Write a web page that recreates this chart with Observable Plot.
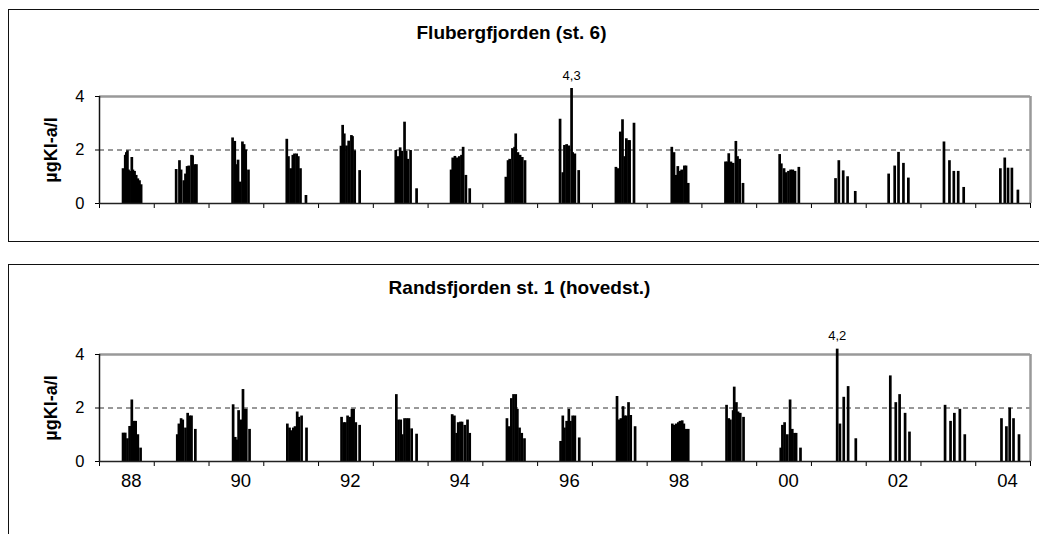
<!DOCTYPE html>
<html>
<head>
<meta charset="utf-8">
<script src="https://cdn.jsdelivr.net/npm/d3@7"></script>
<script src="https://cdn.jsdelivr.net/npm/@observablehq/plot@0.6"></script>
<style>
  html, body { margin: 0; padding: 0; background: #fff; }
  #page { position: relative; width: 1039px; height: 534px; overflow: hidden; font-family: "Liberation Sans", Arial, sans-serif; }
  .box { position: absolute; border: 1.5px solid #111; border-right: none; }
  .title { position: absolute; width: 1039px; text-align: center; font-weight: bold; font-size: 19px; line-height: 22px; }
  .panel { position: absolute; left: 0; }
  .panel svg { overflow: visible; }
</style>
</head>
<body>
<div id="page">
  <div class="box" style="left:8px;top:9px;width:1100px;height:231px;"></div>
  <div class="box" style="left:8px;top:264px;width:1100px;height:400px;border-bottom:none;"></div>
  <div class="title" id="t1" style="top:22px;left:-8px;"></div>
  <div class="title" id="t2" style="top:277px;left:0px;"></div>
  <div class="panel" id="p1" style="top:0px;"></div>
  <div class="panel" id="p2" style="top:250px;"></div>
</div>
<script>
// ---------- data ----------
const panelTitles = ["Flubergfjorden (st. 6)", "Randsfjorden st. 1 (hovedst.)"];
const yLabel = "µgKl-a/l";
const yTicks = [0, 2, 4];
const yearTicks = [1988,1989,1990,1991,1992,1993,1994,1995,1996,1997,1998,1999,2000,2001,2002,2003,2004,2005];
const xLabelYears = [1988,1990,1992,1994,1996,1998,2000,2002,2004];
const xLabels = ["88","90","92","94","96","98","00","02","04"];

// Flubergfjorden (st. 6): sampling dates (decimal year) and chl-a values
const flubDates = [
  1988.43,1988.47,1988.49,1988.51,1988.53,1988.55,1988.59,1988.61,1988.64,1988.67,1988.70,1988.73,1988.76,
  1989.40,1989.46,1989.49,1989.54,1989.57,1989.60,1989.63,1989.68,1989.70,1989.74,1989.77,
  1990.43,1990.47,1990.51,1990.53,1990.57,1990.61,1990.64,1990.67,1990.72,
  1991.42,1991.45,1991.49,1991.53,1991.56,1991.60,1991.63,1991.67,1991.77,
  1992.41,1992.44,1992.47,1992.51,1992.55,1992.60,1992.62,1992.66,1992.75,
  1993.41,1993.45,1993.49,1993.52,1993.57,1993.60,1993.63,1993.68,1993.79,
  1994.42,1994.45,1994.49,1994.53,1994.57,1994.61,1994.64,1994.69,1994.76,
  1995.42,1995.46,1995.49,1995.54,1995.58,1995.60,1995.64,1995.68,1995.72,1995.77,
  1996.41,1996.46,1996.49,1996.53,1996.57,1996.62,1996.64,1996.68,1996.75,
  1997.43,1997.47,1997.51,1997.55,1997.59,1997.62,1997.66,1997.68,1997.76,
  1998.45,1998.49,1998.52,1998.56,1998.60,1998.63,1998.68,1998.71,1998.75,
  1999.43,1999.46,1999.49,1999.53,1999.57,1999.62,1999.65,1999.69,1999.75,
  2000.42,2000.45,2000.50,2000.53,2000.58,2000.62,2000.66,2000.70,2000.77,
  2001.44,2001.50,2001.58,2001.66,2001.80,
  2002.41,2002.52,2002.59,2002.68,2002.77,
  2003.42,2003.52,2003.60,2003.68,2003.78,
  2004.45,2004.53,2004.59,2004.66,2004.77
];
const flubValues = [
  1.30,1.80,1.90,1.97,1.25,1.20,1.72,1.25,1.20,1.05,0.92,0.85,0.70,
  1.27,1.60,1.25,0.85,1.10,1.38,1.40,1.80,1.78,1.45,1.45,
  2.45,2.32,1.45,1.62,0.80,2.30,2.20,2.00,1.25,
  2.40,1.75,1.30,1.80,1.85,1.85,1.75,1.30,0.30,
  2.14,2.92,2.60,2.15,2.33,2.54,2.50,1.97,1.23,
  1.98,1.75,2.08,1.95,3.04,1.95,1.65,1.98,0.55,
  1.25,1.70,1.76,1.70,1.75,1.80,2.10,1.05,0.55,
  0.98,1.60,1.65,2.05,2.10,2.60,1.90,1.80,1.72,1.60,
  3.15,1.15,2.17,2.20,2.15,4.30,1.90,1.85,1.23,
  1.35,1.30,2.67,3.13,1.75,2.42,2.35,2.35,3.00,
  2.10,1.90,1.05,1.38,1.20,1.25,1.40,1.40,0.75,
  1.55,1.55,1.86,1.55,1.50,2.32,1.75,1.65,0.75,
  1.83,1.48,1.30,1.15,1.20,1.25,1.25,1.20,1.35,
  0.93,1.60,1.22,1.00,0.45,
  1.10,1.40,1.91,1.50,0.95,
  2.30,1.60,1.20,1.20,0.60,
  1.30,1.70,1.32,1.32,0.50
];

// Randsfjorden st. 1 (hovedst.)
const randDates = [
  1988.43,1988.47,1988.51,1988.55,1988.59,1988.63,1988.66,1988.70,1988.75,
  1989.42,1989.45,1989.49,1989.52,1989.57,1989.61,1989.65,1989.68,1989.75,
  1990.44,1990.48,1990.51,1990.54,1990.58,1990.62,1990.66,1990.68,1990.74,
  1991.43,1991.47,1991.50,1991.54,1991.57,1991.61,1991.64,1991.69,1991.78,
  1992.42,1992.46,1992.49,1992.53,1992.57,1992.61,1992.64,1992.68,1992.75,
  1993.42,1993.46,1993.50,1993.53,1993.57,1993.61,1993.65,1993.70,1993.79,
  1994.44,1994.48,1994.52,1994.55,1994.59,1994.62,1994.67,1994.72,1994.76,
  1995.44,1995.48,1995.52,1995.56,1995.60,1995.63,1995.67,1995.71,1995.76,
  1996.42,1996.46,1996.49,1996.53,1996.57,1996.60,1996.64,1996.68,1996.76,
  1997.45,1997.48,1997.52,1997.56,1997.59,1997.62,1997.66,1997.70,1997.78,
  1998.46,1998.49,1998.53,1998.57,1998.60,1998.64,1998.67,1998.71,1998.75,
  1999.45,1999.49,1999.52,1999.57,1999.59,1999.63,1999.66,1999.70,1999.76,
  2000.44,2000.47,2000.51,2000.56,2000.61,2000.65,2000.69,2000.72,2000.80,
  2001.47,2001.52,2001.59,2001.67,2001.81,
  2002.44,2002.54,2002.61,2002.71,2002.79,
  2003.44,2003.54,2003.61,2003.71,2003.80,
  2004.47,2004.56,2004.62,2004.69,2004.79
];
const randValues = [
  1.06,1.06,0.85,1.31,2.30,1.50,1.50,1.00,0.50,
  1.00,1.40,1.60,1.55,1.25,1.80,1.70,1.70,1.20,
  2.12,0.90,0.80,1.90,1.55,2.69,1.95,1.95,1.20,
  1.40,1.25,1.15,1.25,1.30,1.85,1.65,1.70,1.25,
  1.65,1.45,1.45,1.70,1.65,1.95,1.95,1.45,1.35,
  2.50,1.55,1.55,1.00,1.60,1.60,1.60,1.22,1.02,
  1.75,1.70,1.05,1.45,1.47,1.47,1.35,1.55,1.05,
  1.60,1.30,2.35,2.50,2.50,1.95,1.25,1.05,0.85,
  0.75,1.70,1.25,1.50,1.95,1.50,1.70,1.70,0.88,
  2.43,1.55,1.60,2.05,1.70,1.70,2.20,1.72,1.30,
  1.40,1.35,1.40,1.45,1.50,1.52,1.40,1.20,1.20,
  2.10,1.60,1.55,1.90,2.78,2.20,1.85,1.80,1.65,
  0.50,1.35,1.45,1.00,2.30,1.20,1.05,1.05,0.50,
  4.20,1.40,2.40,2.80,0.85,
  3.20,2.20,2.50,1.80,1.10,
  2.10,1.50,1.80,1.95,1.00,
  1.60,1.30,2.00,1.60,1.00
];

// ---------- drawing ----------
const FONT = "Liberation Sans, Arial, sans-serif";
const yMax = 4;
const commaFmt = v => d3.format(".1f")(v).replace(".", ",");

function panel(dates, values, opts) {
  const data = dates.map((d, i) => ({date: d, value: values[i]}));
  const over = data.filter(d => d.value > yMax);
  const marks = [
    Plot.ruleY([2], {stroke: "#333", strokeWidth: 1, strokeDasharray: "5,4"}),
    Plot.ruleY([yMax], {stroke: "#999", strokeWidth: 2.5}),
    Plot.ruleX([yearTicks[yearTicks.length - 1]], {y1: 0, y2: yMax, stroke: "#999", strokeWidth: 2.5}),
    Plot.ruleX([yearTicks[0]], {y1: 0, y2: yMax, stroke: "#111", strokeWidth: 1.5}),
    Plot.axisY({ticks: yTicks, tickSize: 4, tickPadding: 11, fontSize: 16.5, label: null, tickFormat: d3.format("d")}),
    Plot.axisX({ticks: yearTicks, tickSize: 5, tickFormat: () => "", label: null}),
    Plot.ruleX(data, {x: "date", y1: 0, y2: "value", stroke: "#000", strokeWidth: 2.7}),
    Plot.ruleY([0], {stroke: "#222", strokeWidth: 1.6}),
    Plot.text(over, {x: "date", y: "value", text: d => commaFmt(d.value), dy: -13, fontSize: 13}),
    Plot.text([yLabel], {x: yearTicks[0], y: () => yMax / 2, rotate: -90, dx: -48, fontWeight: "bold", fontSize: 18})
  ];
  if (opts.xLabels) {
    marks.push(Plot.text(xLabels, {x: (d, i) => xLabelYears[i] + 0.58, y: 0, dy: 20, fontSize: 18.5}));
  }
  return Plot.plot({
    width: 1039,
    height: opts.height,
    marginLeft: 99,
    marginRight: 9,
    marginTop: opts.marginTop,
    marginBottom: opts.marginBottom,
    style: {fontFamily: FONT, color: "#000", background: "transparent", overflow: "visible"},
    x: {type: "linear", domain: [yearTicks[0], yearTicks[yearTicks.length - 1]], axis: null},
    y: {domain: [0, yMax], axis: null},
    marks
  });
}

document.getElementById("t1").textContent = panelTitles[0];
document.getElementById("t2").textContent = panelTitles[1];
document.getElementById("p1").appendChild(panel(flubDates, flubValues, {height: 250, marginTop: 96, marginBottom: 47, xLabels: false}));
document.getElementById("p2").appendChild(panel(randDates, randValues, {height: 284, marginTop: 104, marginBottom: 73, xLabels: true}));
</script>
</body>
</html>
